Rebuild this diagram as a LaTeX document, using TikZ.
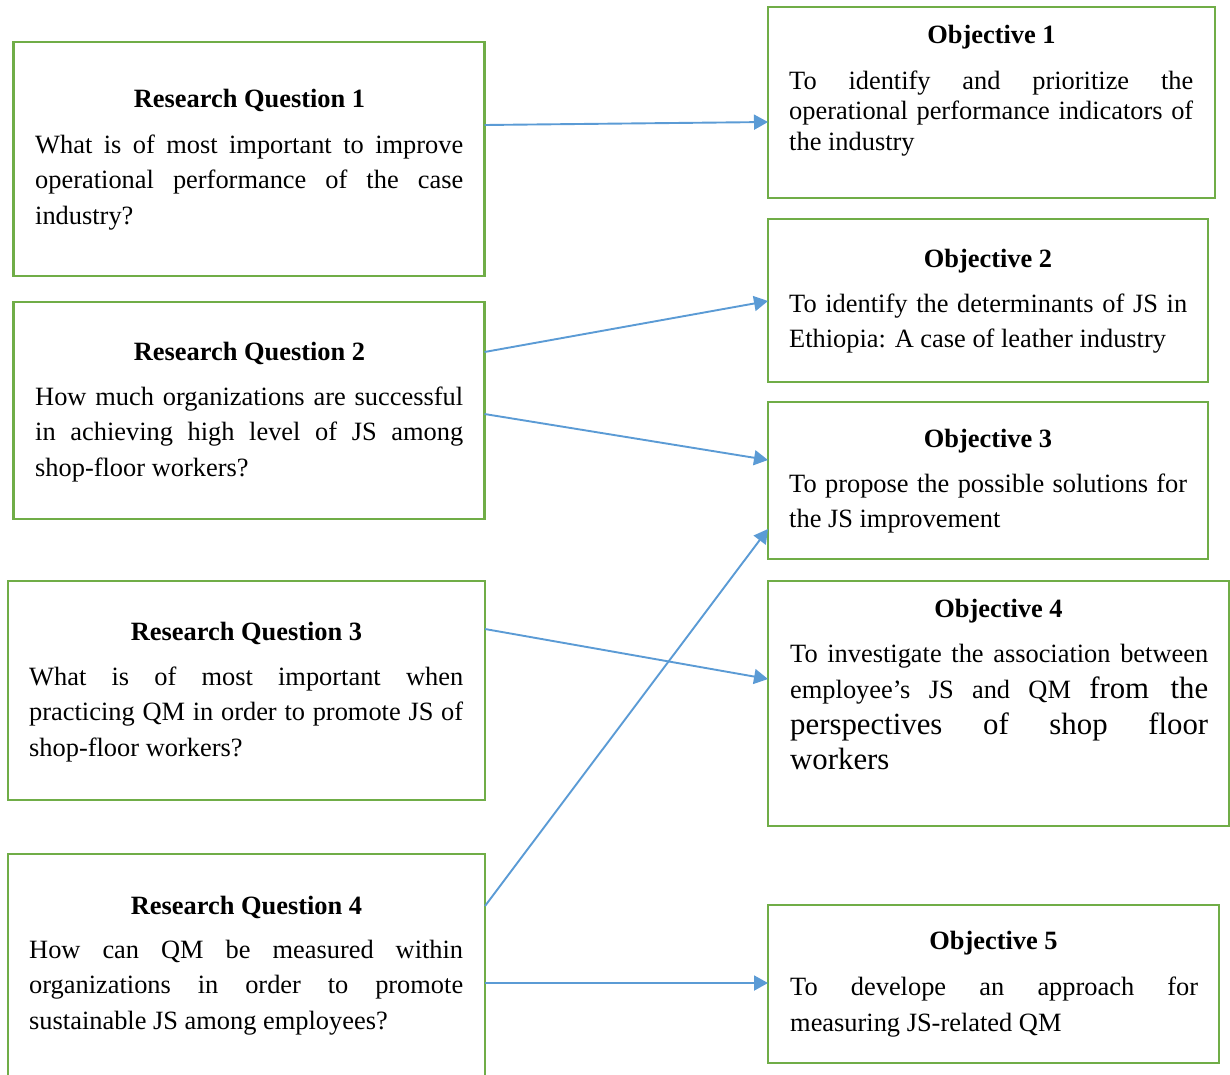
\documentclass[tikz,border=0pt]{standalone}
\usepackage{fontspec}
\setmainfont{Liberation Serif}
\usetikzlibrary{arrows.meta}
\definecolor{boxgreen}{HTML}{70AD47}
\definecolor{arrowblue}{HTML}{5B9BD5}
\pretolerance=10000
\tolerance=10000
\hbadness=10000
\hyphenpenalty=10000
\begin{document}
\begin{tikzpicture}[x=1pt,y=-1pt,
  box/.style={draw=boxgreen, line width=2.2pt, fill=none, inner sep=0pt,
    outer sep=0pt, anchor=north west},
  title/.style={inner sep=0pt, anchor=base,
    font=\fontsize{26.4}{35.5}\selectfont\bfseries},
  body/.style={inner sep=0pt, anchor=base west, align=justify,
    font=\fontsize{26.4}{35.5}\selectfont},
  arr/.style={draw=arrowblue, line width=1.9pt,
    -{Triangle[length=14pt,width=15pt]}}]
\useasboundingbox (0,0) rectangle (1230,1074);

% research questions
\node[box, minimum width=471, minimum height=234] (rq1) at (13.5,42) {};
\node[title] (rq1t) at (249.5,107) {Research Question 1};
\node[body, text width=428] (rq1b) at (35,153)
  {What is of most important to improve\linebreak operational performance of the case\linebreak industry?};

\node[box, minimum width=471, minimum height=217] (rq2) at (13.5,302) {};
\node[title] (rq2t) at (249.5,360) {Research Question 2};
\node[body, text width=428] (rq2b) at (35,405)
  {How much organizations are successful\linebreak in achieving high level of JS among\linebreak shop-floor workers?};

\node[box, minimum width=477, minimum height=219] (rq3) at (8,581) {};
\node[title] (rq3t) at (246.5,640) {Research Question 3};
\node[body, text width=434] (rq3b) at (29,685)
  {What is of most important when\linebreak practicing QM in order to promote JS of\linebreak shop-floor workers?};

\node[box, minimum width=477, minimum height=223] (rq4) at (8,854) {};
\node[title] (rq4t) at (246.5,914) {Research Question 4};
\node[body, text width=434] (rq4b) at (29,958)
  {How can QM be measured within\linebreak organizations in order to promote\linebreak sustainable JS among employees?};

% objectives
\node[box, minimum width=447, minimum height=191] (o1) at (768,7) {};
\node[title] (o1t) at (991.5,43) {Objective 1};
\node[body, text width=404, font=\fontsize{26.4}{30.5}\selectfont] (o1b) at (789,89)
  {To identify and prioritize the\linebreak operational performance indicators of\linebreak the industry};

\node[box, minimum width=440, minimum height=163] (o2) at (768,219) {};
\node[title] (o2t) at (988,267) {Objective 2};
\node[body, text width=398] (o2b) at (789,312)
  {To identify the determinants of JS in\linebreak Ethiopia: A case of leather industry};

\node[box, minimum width=440, minimum height=157] (o3) at (768,402) {};
\node[title] (o3t) at (988,447) {Objective 3};
\node[body, text width=398] (o3b) at (789,492)
  {To propose the possible solutions for\linebreak the JS improvement};

\node[box, minimum width=461, minimum height=245] (o4) at (768,581) {};
\node[title] (o4t) at (998.5,617) {Objective 4};
\node[body, text width=418] (o4b) at (790,662)
  {To investigate the association between\vadjust{\kern1pt}\linebreak employee’s JS and QM {\fontsize{30.8}{36}\selectfont from the\linebreak perspectives of shop floor\linebreak workers}};

\node[box, minimum width=451, minimum height=158] (o5) at (768,905) {};
\node[title] (o5t) at (993.5,949) {Objective 5};
\node[body, text width=408, font=\fontsize{26.4}{36.5}\selectfont] (o5b) at (790,995)
  {To develope an approach for\linebreak measuring JS-related QM};

% connectors
\draw[arr] (rq1.east |- 0,125) -- (o1.west |- 0,122);
\draw[arr] (rq2.east |- 0,352) -- (o2.west |- 0,301);
\draw[arr] (rq2.east |- 0,414) -- (o3.west |- 0,460);
\draw[arr] (rq3.east |- 0,629) -- (o4.west |- 0,679);
\draw[arr] (rq4.east |- 0,906) -- (o3.west |- 0,529);
\draw[arr] (rq4.east |- 0,983) -- (o5.west |- 0,983);
\end{tikzpicture}
\end{document}
